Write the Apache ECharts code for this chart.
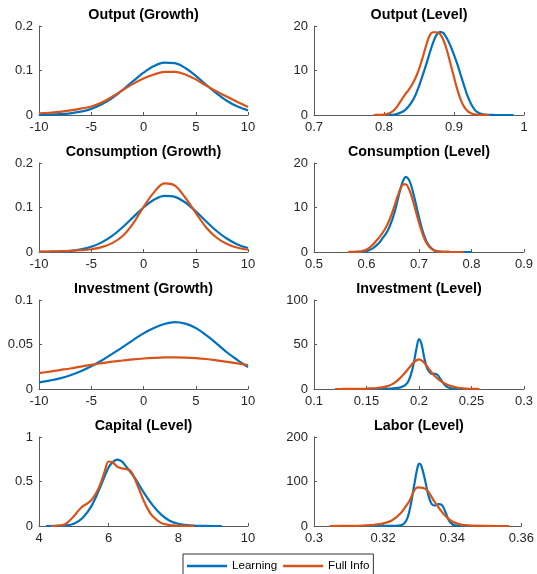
<!DOCTYPE html>
<html><head><meta charset="utf-8">
<script src="https://cdn.jsdelivr.net/npm/echarts@6/dist/echarts.min.js"></script>
<style>html,body{margin:0;padding:0;background:#fff}#c{width:537px;height:574px}</style>
</head><body><div id="c"></div>
<script>
// ---------- DATA ----------
const seriesNames = ['Learning', 'Full Info'];
const titles = ['Output (Growth)', 'Output (Level)', 'Consumption (Growth)', 'Consumption (Level)',
                'Investment (Growth)', 'Investment (Level)', 'Capital (Level)', 'Labor (Level)'];

const growthX = [-10,-9,-8,-7,-6,-5,-4,-3,-2,-1,0,1,2,3,4,5,6,7,8,9,10];

const outGrowthLearn = [0.0003,0.0008,0.0018,0.0038,0.0075,0.0138,0.024,0.038,0.056,0.076,0.095,0.110,0.1175,0.1165,0.1055,0.088,0.068,0.0485,0.0315,0.019,0.0105];
const outGrowthFull  = [0.0035,0.005,0.007,0.0105,0.0145,0.019,0.028,0.041,0.056,0.070,0.082,0.091,0.097,0.097,0.091,0.080,0.066,0.053,0.041,0.029,0.018];

const outLevelLearnX = [0.800,0.805,0.810,0.815,0.820,0.825,0.830,0.835,0.840,0.845,0.850,0.855,0.860,0.865,0.870,0.875,0.880,0.885,0.890,0.895,0.900,0.905,0.910,0.915,0.920,0.925,0.930,0.935,0.940,0.945,0.950,0.955,0.960,0.985];
const outLevelLearn  = [0,0.01,0.03,0.1,0.3,0.6,1.1,1.9,3.0,4.5,6.5,8.8,11.2,13.8,16.2,18.0,18.7,18.4,17.2,15.5,13.5,11.3,8.8,6.3,4.0,2.3,1.1,0.5,0.2,0.08,0.03,0.01,0,0];
const outLevelFullX  = [0.785,0.790,0.795,0.800,0.805,0.810,0.815,0.820,0.825,0.830,0.835,0.840,0.845,0.850,0.855,0.860,0.865,0.870,0.875,0.880,0.885,0.890,0.895,0.900,0.905,0.910,0.915,0.920,0.925,0.930,0.935,0.940,0.945,0.950];
const outLevelFull   = [0,0.02,0.05,0.1,0.25,0.6,1.2,2.2,3.4,4.6,5.6,6.8,8.3,10.3,12.8,15.5,17.8,18.6,18.6,18.2,16.8,14.5,11.5,8.5,5.6,3.3,1.7,0.8,0.35,0.15,0.06,0.03,0.01,0];

const consGrowthLearn = [0.00015,0.0004,0.0011,0.0027,0.0058,0.0117,0.0216,0.0361,0.0555,0.0779,0.1,0.1174,0.1261,0.1239,0.1113,0.0915,0.0687,0.0472,0.0297,0.0171,0.009];
const consGrowthFull  = [0.0008,0.0012,0.0018,0.0027,0.004,0.0062,0.011,0.02,0.036,0.064,0.101,0.134,0.154,0.149,0.122,0.088,0.055,0.032,0.018,0.0095,0.005];

const consLevelLearnX = [0.570,0.575,0.580,0.585,0.590,0.595,0.600,0.605,0.610,0.615,0.620,0.625,0.630,0.635,0.640,0.645,0.650,0.655,0.660,0.665,0.670,0.675,0.680,0.685,0.690,0.695,0.700,0.705,0.710,0.715,0.720,0.725,0.730,0.735,0.740,0.745,0.750,0.755,0.760,0.800];
const consLevelLearn  = [0,0,0.01,0.02,0.05,0.1,0.2,0.4,0.7,1.1,1.6,2.2,3.0,3.8,4.7,6.0,7.6,9.6,12.0,14.3,16.1,16.9,16.4,15.0,12.8,10.3,7.8,5.5,3.6,2.2,1.3,0.7,0.35,0.17,0.08,0.04,0.02,0.01,0,0];
const consLevelFullX  = [0.565,0.570,0.575,0.580,0.585,0.590,0.595,0.600,0.605,0.610,0.615,0.620,0.625,0.630,0.635,0.640,0.645,0.650,0.655,0.660,0.665,0.670,0.675,0.680,0.685,0.690,0.695,0.700,0.705,0.710,0.715,0.720,0.725,0.730,0.735,0.740,0.745,0.750,0.755,0.760,0.785];
const consLevelFull   = [0,0.01,0.02,0.04,0.08,0.15,0.3,0.55,0.9,1.4,2.0,2.7,3.4,4.2,5.1,6.2,7.6,9.2,11.0,12.8,14.3,15.2,15.2,14.4,12.9,10.9,8.7,6.6,4.7,3.1,1.9,1.1,0.6,0.3,0.14,0.07,0.03,0.015,0.01,0.005,0];

const invGrowthLearn = [0.0075,0.0095,0.012,0.0155,0.02,0.0255,0.032,0.0395,0.047,0.055,0.0625,0.0685,0.073,0.0752,0.0735,0.0685,0.0605,0.051,0.041,0.0325,0.0245];
const invGrowthFull  = [0.0178,0.0195,0.0213,0.023,0.0252,0.0272,0.029,0.0307,0.032,0.0333,0.0343,0.035,0.0355,0.0356,0.0353,0.0347,0.0337,0.0322,0.0305,0.0287,0.027];

const invLevelLearnX = [0.15,0.16,0.17,0.175,0.18,0.1825,0.185,0.1875,0.19,0.1925,0.195,0.1975,0.2,0.2025,0.205,0.2075,0.21,0.2125,0.215,0.2175,0.22,0.2225,0.225,0.2275,0.23,0.235,0.24,0.25];
const invLevelLearn  = [0,0.1,0.3,0.6,1.2,1.8,3,5,9,17,29,45,56,50,35,24,19,17,17,16,12,7.5,4,1.8,0.8,0.2,0.05,0];
const invLevelFullX  = [0.12,0.125,0.13,0.135,0.14,0.145,0.15,0.155,0.16,0.165,0.17,0.175,0.18,0.185,0.19,0.195,0.2,0.205,0.21,0.215,0.22,0.225,0.23,0.235,0.24,0.245,0.25,0.255,0.2575];
const invLevelFull   = [0,0.02,0.05,0.08,0.12,0.2,0.35,0.6,1.0,1.8,3.2,5.8,10,16,23,30,33.3,29.5,21.5,14.5,9.5,6,3.5,1.9,1.0,0.5,0.2,0.08,0];

const capLearnX = [4.2,4.5,4.75,5.0,5.25,5.5,5.75,6.0,6.125,6.25,6.375,6.5,6.75,7.0,7.25,7.5,7.75,8.0,8.25,8.5,8.75,9.0,9.25];
const capLearn  = [0,0.001,0.005,0.025,0.09,0.22,0.43,0.66,0.72,0.745,0.725,0.67,0.54,0.38,0.24,0.13,0.06,0.025,0.009,0.003,0.001,0,0];
const capFullX  = [4.35,4.5,4.75,5.0,5.125,5.25,5.375,5.5,5.625,5.75,5.875,6.0,6.125,6.25,6.375,6.5,6.625,6.75,6.875,7.0,7.125,7.25,7.5,7.75,8.0,8.25,8.45];
const capFull   = [0,0.003,0.02,0.11,0.17,0.22,0.25,0.29,0.36,0.46,0.6,0.725,0.71,0.665,0.648,0.64,0.62,0.53,0.41,0.29,0.19,0.115,0.035,0.01,0.003,0.001,0];

const labLearnX = [0.31,0.32,0.323,0.325,0.326,0.327,0.328,0.329,0.33,0.3305,0.331,0.332,0.333,0.334,0.335,0.336,0.337,0.338,0.339,0.34,0.341,0.343,0.35];
const labLearn  = [0,0.1,0.5,1.5,5,17,48,92,133,140,136,108,72,50,46,49,47,32,13,4,1,0.2,0];
const labFullX  = [0.3045,0.31,0.3125,0.315,0.3175,0.32,0.3225,0.325,0.3275,0.33,0.3325,0.335,0.3375,0.34,0.3425,0.345,0.3475,0.35,0.3565];
const labFull   = [0,0.2,0.5,1.2,2.8,6,12.5,28,55,87,82,53,27,10,3,1,0.3,0.1,0];

// axis ranges [min, max, interval]
const xRanges = [[-10,10,5],[0.7,1,0.1],[-10,10,5],[0.5,0.9,0.1],[-10,10,5],[0.1,0.3,0.05],[4,10,2],[0.3,0.36,0.02]];
const yRanges = [[0,0.2,0.1],[0,20,10],[0,0.2,0.1],[0,20,10],[0,0.1,0.05],[0,100,50],[0,1,0.5],[0,200,100]];

// ---------- BUILD ----------
const zip = (xs, ys) => xs.map((x, i) => [x, ys[i]]);
const panelData = [
  [zip(growthX, outGrowthLearn), zip(growthX, outGrowthFull)],
  [zip(outLevelLearnX, outLevelLearn), zip(outLevelFullX, outLevelFull)],
  [zip(growthX, consGrowthLearn), zip(growthX, consGrowthFull)],
  [zip(consLevelLearnX, consLevelLearn), zip(consLevelFullX, consLevelFull)],
  [zip(growthX, invGrowthLearn), zip(growthX, invGrowthFull)],
  [zip(invLevelLearnX, invLevelLearn), zip(invLevelFullX, invLevelFull)],
  [zip(capLearnX, capLearn), zip(capFullX, capFull)],
  [zip(labLearnX, labLearn), zip(labFullX, labFull)]
];

const colors = ['#0072BD', '#D95319'];
const colLeft = [39, 314], colWidth = [209, 210];
const rowTop = [26, 163, 300, 437], rowH = 89;
const titleTop = [8, 145, 282, 419];
const axisColor = '#5a5a5a';
const textColor = '#262626';
const font = 'Liberation Sans, Arial, Helvetica, sans-serif';
const fmt = v => String(parseFloat(Number(v).toFixed(6)));

const grids = [], xAxes = [], yAxes = [], series = [], titleArr = [];
for (let i = 0; i < 8; i++) {
  const c = i % 2, r = Math.floor(i / 2);
  grids.push({left: colLeft[c], top: rowTop[r], width: colWidth[c], height: rowH, containLabel: false});
  const common = {
    gridIndex: i, type: 'value',
    axisLine: {show: true, onZero: false, lineStyle: {color: axisColor, width: 1}},
    axisTick: {show: true, inside: true, length: 3, lineStyle: {color: axisColor, width: 1}},
    splitLine: {show: false},
    axisLabel: {color: textColor, fontSize: 13, fontFamily: font, formatter: fmt, margin: 6}
  };
  xAxes.push(Object.assign({}, common, {min: xRanges[i][0], max: xRanges[i][1], interval: xRanges[i][2]}));
  yAxes.push(Object.assign({}, common, {min: yRanges[i][0], max: yRanges[i][1], interval: yRanges[i][2]}));
  for (let s = 0; s < 2; s++) {
    series.push({
      name: seriesNames[s], type: 'line', xAxisIndex: i, yAxisIndex: i,
      data: panelData[i][s], smooth: 0.35, symbol: 'none', showSymbol: false,
      lineStyle: {color: colors[s], width: 2.2}, itemStyle: {color: colors[s]},
      clip: true, z: 2 + s
    });
  }
  titleArr.push({
    text: titles[i], left: colLeft[c] + colWidth[c] / 2, top: titleTop[r], textAlign: 'center',
    padding: 0,
    textStyle: {fontSize: 14.3, fontWeight: 'bold', fontFamily: font, color: '#000'}
  });
}

const chart = echarts.init(document.getElementById('c'), null, {renderer: 'canvas'});
chart.setOption({
  backgroundColor: '#fff',
  animation: false,
  title: titleArr,
  grid: grids,
  xAxis: xAxes,
  yAxis: yAxes,
  series: series,
  legend: {
    show: true,
    data: [{name: 'Learning', icon: 'rect'}, {name: 'Full Info', icon: 'rect'}],
    left: 183, top: 554, orient: 'horizontal',
    padding: [5, 4, 5, 4], itemGap: 6, itemWidth: 40, itemHeight: 2.5,
    borderColor: '#333', borderWidth: 1,
    textStyle: {fontSize: 11.6, fontFamily: font, color: '#000', lineHeight: 14},
    selectedMode: false
  }
});
</script></body></html>
